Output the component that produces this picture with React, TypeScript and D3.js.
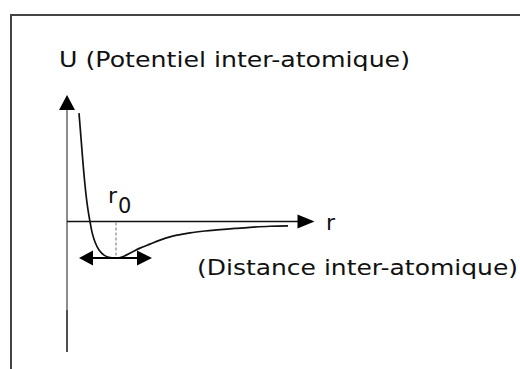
import React from "react";
import * as d3 from "d3";

// Curve: r (arbitrary units), U (arbitrary units)
const curveR = [4.8, 5.6, 6.4, 7.2, 8, 8.8, 9.2, 10, 11.2, 12.8, 14.8, 17.2, 20, 22.8, 26, 29.2, 33.2, 37.2, 41.2, 45.2, 49.2, 55.2, 60, 67.2, 73.2, 81.2, 88.4];
const curveU = [2.97, 2.29, 1.6, 1.0, 0.51, 0.15, 0, -0.29, -0.56, -0.78, -0.92, -0.99, -1.0, -0.95, -0.84, -0.73, -0.62, -0.51, -0.42, -0.36, -0.31, -0.26, -0.23, -0.19, -0.16, -0.13, -0.12];
const r0 = 19.6;
const uMin = -1.0;
const yLabel = "U (Potentiel inter-atomique)";
const xLabel = "(Distance inter-atomique)";
const xSym = "r";

export default function App() {
  const W = 520, H = 369;
  const x = d3.scaleLinear().domain([0, 100]).range([67, 317]);
  const y = d3.scaleLinear().domain([-1, 0]).range([258, 221.5]);
  const pts: [number, number][] = curveR.map((r, i) => [r, curveU[i]]);
  const line = d3.line<[number, number]>()
    .x(d => x(d[0]))
    .y(d => y(d[1]))
    .curve(d3.curveCatmullRom.alpha(0.5));
  const x0 = x(0), y0 = y(0);
  const yTop = y(3.466), yBot = y(-3.575);
  const xEnd = x(99);
  const font = "'DejaVu Sans', Verdana, sans-serif";
  const ay = y(uMin);
  const aL = x(4.8), aR = x(34);
  return (
    <svg width={W} height={H} style={{ position: "absolute", left: 0, top: 0, background: "#fff" }}>
      <rect x={11} y={15} width={530} height={380} fill="#fff" stroke="#444" strokeWidth={2} />
      <text x={59} y={67} fontFamily={font} fontSize={22} fill="#111" textLength={351} lengthAdjust="spacingAndGlyphs">{yLabel}</text>
      {/* y axis */}
      <line x1={x0} x2={x0} y1={yTop + 14} y2={310} stroke="#8c8c8c" strokeWidth={2} />
      <line x1={x0} x2={x0} y1={310} y2={yBot} stroke="#222" strokeWidth={1.6} />
      <path d={`M${x0},${yTop} L${x0 - 8},${yTop + 15} L${x0 + 8},${yTop + 15} Z`} fill="#000" />
      {/* x axis */}
      <line x1={x0} x2={xEnd - 16} y1={y0} y2={y0} stroke="#111" strokeWidth={1.6} />
      <path d={`M${xEnd},${y0} L${xEnd - 17},${y0 - 7} L${xEnd - 17},${y0 + 7} Z`} fill="#000" />
      <text x={326} y={230} fontFamily={font} fontSize={22} fill="#111">{xSym}</text>
      {/* dashed r0 */}
      <line x1={x(r0)} x2={x(r0)} y1={y0 + 1} y2={ay} stroke="#999" strokeWidth={1.4} strokeDasharray="3,2" />
      <text x={108} y={203} fontFamily={font} fontSize={22} fill="#111">r</text>
      <text x={118} y={213} fontFamily={font} fontSize={21} fill="#111">0</text>
      {/* curve */}
      <path d={line(pts) || ""} fill="none" stroke="#111" strokeWidth={1.7} />
      {/* double arrow */}
      <line x1={aL + 12} x2={aR - 12} y1={ay} y2={ay} stroke="#000" strokeWidth={1.8} />
      <path d={`M${aL},${ay} L${aL + 14},${ay - 7.5} L${aL + 14},${ay + 7.5} Z`} fill="#000" />
      <path d={`M${aR},${ay} L${aR - 15},${ay - 7.5} L${aR - 15},${ay + 7.5} Z`} fill="#000" />
      <text x={197} y={275} fontFamily={font} fontSize={22} fill="#111" textLength={321} lengthAdjust="spacingAndGlyphs">{xLabel}</text>
    </svg>
  );
}
